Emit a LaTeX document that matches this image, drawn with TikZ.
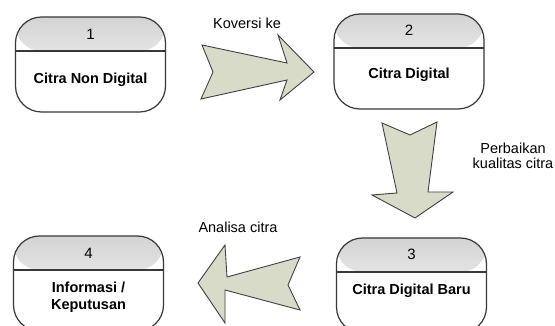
\documentclass[tikz,border=0pt]{standalone}
\usepackage{fontspec}
\setmainfont{Liberation Sans}
\begin{document}
\begin{tikzpicture}[x=1pt,y=-1pt,
  procbox/.style={draw=black!78, line width=1.2pt, rounded corners=26pt,
    minimum width=150pt, minimum height=95pt, inner sep=0pt, fill=white,
    path picture={
      \fill[top color=black!17, bottom color=white]
        (path picture bounding box.north west) rectangle ([yshift=-34pt]path picture bounding box.north east);
      \draw[line width=1.2pt, black!78]
        ([yshift=-34pt]path picture bounding box.north west) -- ([yshift=-34pt]path picture bounding box.north east);}},
  numtxt/.style={font=\fontsize{15}{17}\selectfont, inner sep=0pt},
  boxtxt/.style={font=\bfseries\fontsize{14.5}{17}\selectfont, align=center, inner sep=0pt},
  lbl/.style={font=\fontsize{14.5}{15}\selectfont, align=center, inner sep=0pt},
  fatarrow/.style={draw=black!75, line width=0.9pt, fill=arrowfill, line join=miter}
]
\definecolor{arrowfill}{RGB}{217,219,201}
\clip (0,0) rectangle (555,326);
\fill[white] (0,0) rectangle (555,326);

% boxes
\node[procbox] (b1) at (90.5,64.5) {};
\node[procbox] (b2) at (409,61.5) {};
\node[procbox] (b3) at (411.5,285.5) {};
\node[procbox] (b4) at (88.5,283.5) {};

\node[numtxt] (n1) at (90.5,34) {1};
\node[boxtxt] (t1) at (90.5,80) {Citra Non Digital};
\node[numtxt] (n2) at (409,30) {2};
\node[boxtxt] (t2) at (409,75) {Citra Digital};
\node[numtxt] (n3) at (411.5,254) {3};
\node[boxtxt] (t3) at (411.5,291) {Citra Digital Baru};
\node[numtxt] (n4) at (88.5,253) {4};
\node[boxtxt] (t4) at (88.5,297) {Informasi /\\Keputusan};

% fat arrows
\draw[fatarrow] (202,45) -- (287,63) -- (278,35) -- (314,72) -- (280,100) -- (287,80) -- (201,99) -- (213,72) -- cycle;
\draw[fatarrow] (382,123) -- (410,135) -- (437,122) -- (428,192) -- (453,192) -- (415,218) -- (372,195) -- (397,193) -- cycle;
\draw[fatarrow] (198,283) -- (225,245) -- (227,277) -- (300,257) -- (288,285) -- (300,310) -- (225,290) -- (225,323) -- cycle;

% labels
\node[lbl] (l1) at (247,23) {Koversi ke};
\node[lbl] (l2) at (513,156) {Perbaikan\\kualitas citra};
\node[lbl] (l3) at (238,227) {Analisa citra};
\end{tikzpicture}
\end{document}
